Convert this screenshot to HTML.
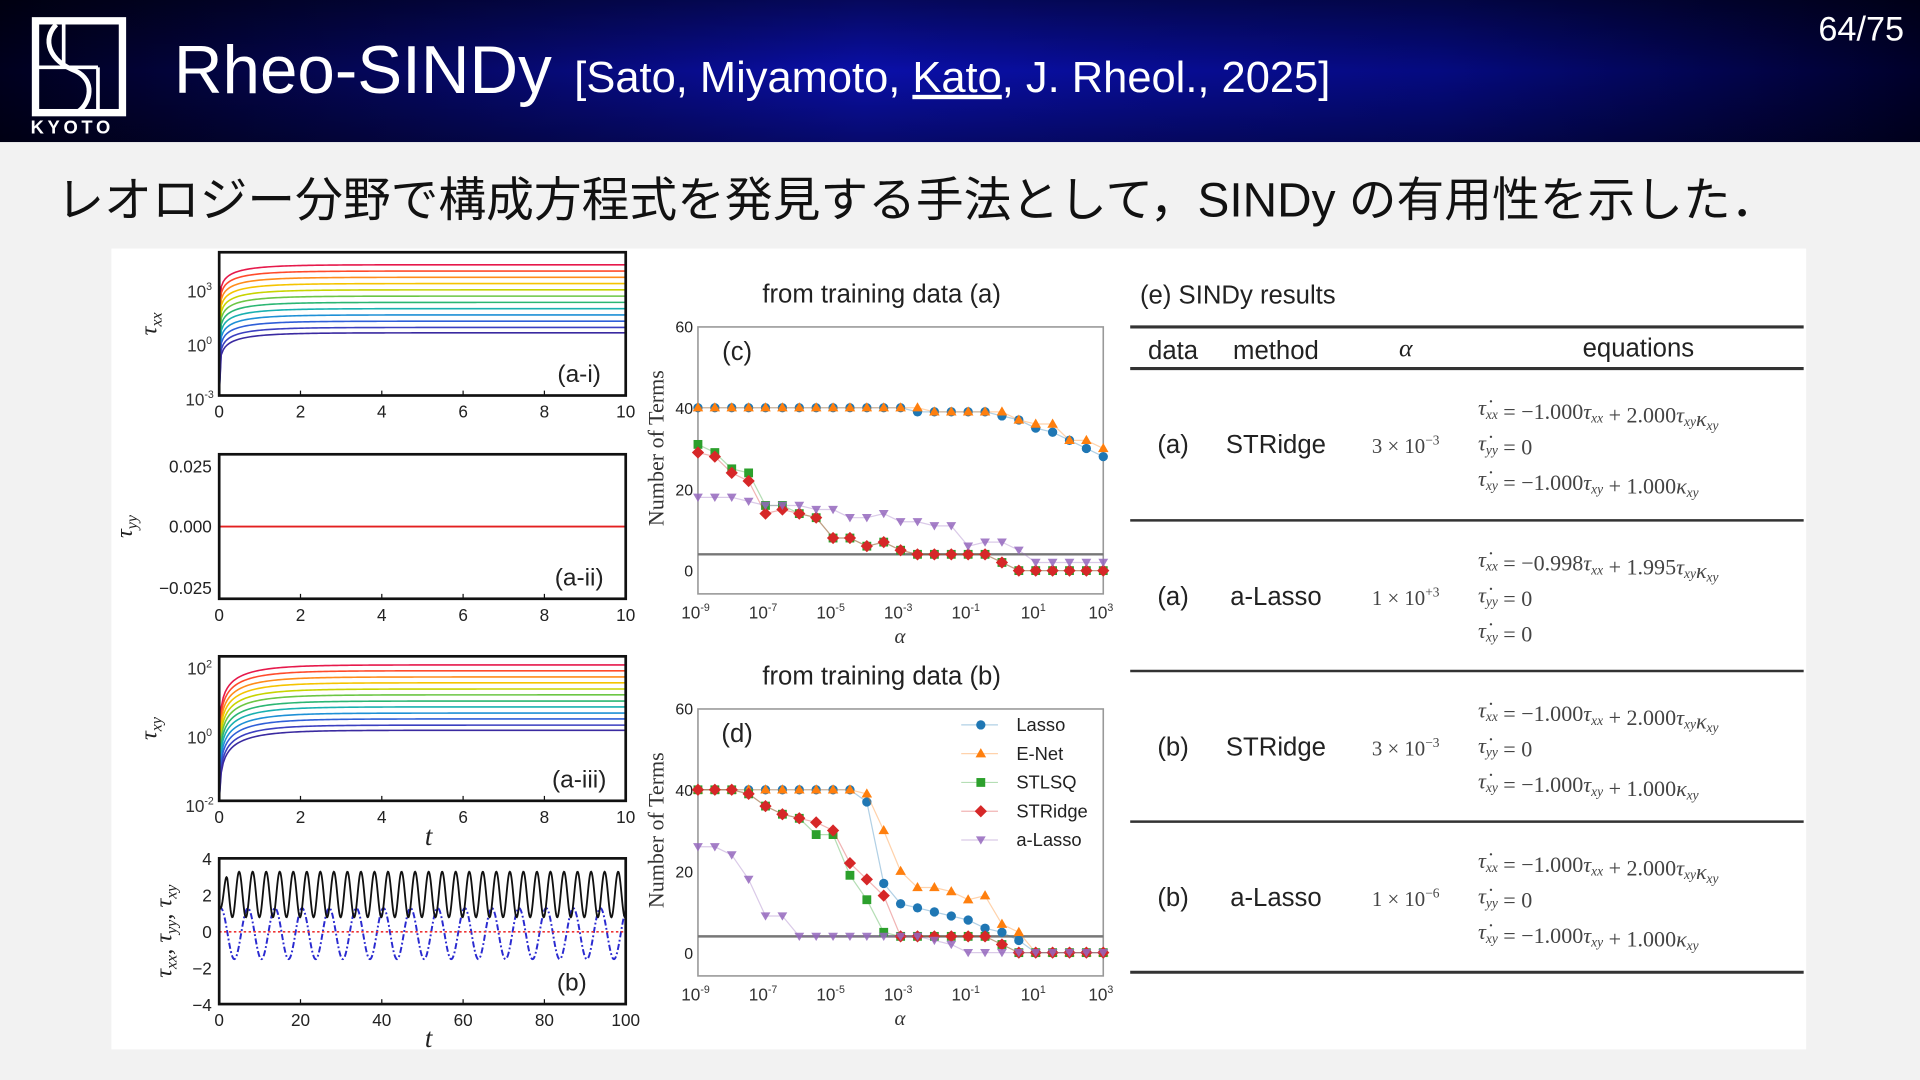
<!DOCTYPE html>
<html><head><meta charset="utf-8">
<style>
html,body{margin:0;padding:0;background:#f2f2f2;overflow:hidden}
svg{display:block}
.sans{font-family:"Liberation Sans","Noto Sans CJK JP",sans-serif}
.serif{font-family:"Liberation Serif",serif}
</style></head>
<body>
<svg id="s" width="1920" height="1080" viewBox="0 0 1568 882" xmlns="http://www.w3.org/2000/svg">
<defs>
<linearGradient id="hg" x1="0" y1="0" x2="1" y2="0">
<stop offset="0" stop-color="#00001e"/><stop offset="0.45" stop-color="#0a0fa8"/><stop offset="0.75" stop-color="#050a80"/><stop offset="1" stop-color="#00002a"/>
</linearGradient>
<linearGradient id="vg" x1="0" y1="0" x2="0" y2="1">
<stop offset="0" stop-color="#000" stop-opacity="0.45"/><stop offset="0.5" stop-color="#000" stop-opacity="0"/><stop offset="1" stop-color="#000" stop-opacity="0.35"/>
</linearGradient>
</defs>
<rect x="0" y="0" width="1568" height="882" fill="#f2f2f2"/>
<g>
<rect x="0" y="0" width="1568" height="116" fill="url(#hg)"/>
<rect x="0" y="0" width="1568" height="116" fill="url(#vg)"/>
<g fill="none" stroke="#fff">
<rect x="29" y="17" width="71" height="75" stroke-width="6"/>
<line x1="29" y1="55" x2="80" y2="55" stroke-width="3"/>
<line x1="80" y1="55" x2="80" y2="92" stroke-width="3"/>
<line x1="52" y1="17" x2="52" y2="55" stroke-width="3"/>
<path d="M46 20 C34 32 40 50 62 58 C78 66 74 84 64 91" stroke-width="4"/>
</g>
<text x="25" y="109" class="sans" font-size="15" font-weight="bold" fill="#fff" letter-spacing="3">KYOTO</text>
<text x="142" y="76" class="sans" font-size="55" fill="#fff">Rheo-SINDy</text>
<text x="469" y="75" class="sans" font-size="35.5" fill="#fff">[Sato, Miyamoto, <tspan text-decoration="underline">Kato</tspan>, J. Rheol., 2025]</text>
<text x="1555" y="33" text-anchor="end" class="sans" font-size="28" fill="#fff">64/75</text>
</g>
<text x="46" y="177" class="sans" font-size="39" fill="#111">レオロジー分野で構成方程式を発見する手法として，SINDy の有用性を示した．</text>
<rect x="91" y="203" width="1384" height="654" fill="#fff"/>
<g id="charts"></g>
<g id="table"></g>
</svg>
<script>
// ---------- data ----------
const alphaExp = [-9,-8.5,-8,-7.5,-7,-6.5,-6,-5.5,-5,-4.5,-4,-3.5,-3,-2.5,-2,-1.5,-1,-0.5,0,0.5,1,1.5,2,2.5,3];
const methods = ['Lasso','E-Net','STLSQ','STRidge','a-Lasso'];
const colors = ['#1f77b4','#ff7f0e','#2ca02c','#d62728','#9467bd'];
const cLasso  = [40,40,40,40,40,40,40,40,40,40,40,40,40,39,39,39,39,39,38,37,35,34,32,30,28];
const cENet   = [40,40,40,40,40,40,40,40,40,40,40,40,40,40,39,39,39,39,39,37,36,36,32,32,30];
const cSTLSQ  = [31,29,25,24,16,16,14,13,8,8,6,7,5,4,4,4,4,4,2,0,0,0,0,0,0];
const cSTRidge= [29,28,24,22,14,15,14,13,8,8,6,7,5,4,4,4,4,4,2,0,0,0,0,0,0];
const cALasso = [18,18,18,17,16,16,16,15,15,13,13,14,12,12,11,11,6,7,7,5,2,2,2,2,2];
const dLasso  = [40,40,40,40,40,40,40,40,40,40,37,17,12,11,10,9,8,6,5,3,0,0,0,0,0];
const dENet   = [40,40,40,40,40,40,40,40,40,40,39,30,20,16,16,15,13,14,7,5,0,0,0,0,0];
const dSTLSQ  = [40,40,40,39,36,34,33,29,29,19,13,5,4,4,4,4,4,4,2,0,0,0,0,0,0];
const dSTRidge= [40,40,40,39,36,34,33,32,30,22,18,14,4,4,4,4,4,4,2,0,0,0,0,0,0];
const dALasso = [26,26,24,18,9,9,4,4,4,4,4,4,4,4,3,2,0,0,0,0,0,0,0,0,0];
const trueTerms = 4;
const yTicksTerms = [0,20,40,60];
const xTicksAlpha = [-9,-7,-5,-3,-1,1,3];
const xTicksT = [0,2,4,6,8,10];
const xTicksTb = [0,20,40,60,80,100];
const rainbow = ['#e6194b','#ff4b2b','#ff8c1a','#f5c400','#c8d400','#6cc644','#2bb673','#19b0b0','#1e90d6','#2f5fd8','#3b3fc0','#3a2aa0'];
const aiSteadyLog = [4.3,3.95,3.6,3.25,2.9,2.55,2.2,1.85,1.5,1.15,0.8,0.5];
const aiiiSteadyLog = [1.95,1.78,1.6,1.43,1.25,1.08,0.9,0.73,0.55,0.38,0.2,0.05];
const bBlack = {mid:2.05, amp:1.25, period:3.33};
const bBlue = {mid:-0.1, amp:1.4, period:6.67};

const NS='http://www.w3.org/2000/svg';
const root=document.getElementById('charts');
function mk(tag,attrs,parent){const e=document.createElementNS(NS,tag);for(const k in attrs)e.setAttribute(k,attrs[k]);(parent||root).appendChild(e);return e;}
function txt(x,y,s,size,parent,anchor,cls){const t=mk('text',{x:x,y:y,'font-size':size,'text-anchor':anchor||'middle','class':cls||'sans',fill:'#222'},parent);t.textContent=s;return t;}
function pow10(x,y,e,parent,size){const t=mk('text',{x:x,y:y,'font-size':size||13,'text-anchor':'middle','class':'sans',fill:'#333'},parent);t.appendChild(document.createTextNode('10'));const sp=document.createElementNS(NS,'tspan');sp.setAttribute('dy','-6');sp.setAttribute('font-size',(size||13)*0.62);sp.textContent=e;t.appendChild(sp);return t;}

// ---------- alpha plots ----------
function alphaPlot(name,top,series,label,title,legend){
  const g=mk('g',{});
  
  
  const L=570,R=901,T=top,B=top+218;
  const X=e=>L+(e+9)/12*(R-L);
  const y0=top+199, y40=top+66;
  const Y=v=>y0-(y0-y40)/40*v;
  mk('rect',{x:L,y:T,width:R-L,height:B-T,fill:'#fff',stroke:'#999','stroke-width':1.3},g);
  txt(720,top-20,title,21,g);
  txt(602,top+27,label,21,g);
  yTicksTerms.forEach(v=>{txt(L-4,Y(v)+5,String(v),13,g,'end');});
  xTicksAlpha.forEach(e=>{pow10(X(e)-2,B+20,String(e),g,14);});
  const ax=mk('text',{x:735,y:B+40,'font-size':17,'text-anchor':'middle','class':'serif','font-style':'italic',fill:'#333'},g);ax.textContent='α';
  const yl=mk('text',{x:0,y:0,'font-size':18,'text-anchor':'middle','class':'serif',fill:'#333',transform:`translate(542,${(T+B)/2-10}) rotate(-90)`},g);yl.textContent='Number of Terms';
  const tl=mk('line',{x1:L,x2:R,y1:Y(trueTerms),y2:Y(trueTerms),stroke:'#777','stroke-width':2},g);
  
  
  series.forEach((vals,si)=>{
    const sg=mk('g',{},g);
    
    
    const c=colors[si];
    mk('polyline',{points:vals.map((v,i)=>X(alphaExp[i])+','+Y(v)).join(' '),fill:'none',stroke:c,'stroke-opacity':0.35,'stroke-width':1},sg);
    vals.forEach((v,i)=>{marker(si,X(alphaExp[i]),Y(v),sg);});
  });
  if(legend){
    const lg=mk('g',{},g);
    
    
    methods.forEach((m,i)=>{
      const ly=top+13+i*23.5;
      mk('line',{x1:785,x2:815,y1:ly,y2:ly,stroke:colors[i],'stroke-opacity':0.35},lg);
      marker(i,801,ly,lg);
      txt(830,ly+5,m,15,lg,'start');
    });
  }
}
function marker(si,x,y,p){
  const c=colors[si];let e;
  if(si===0)e=mk('circle',{cx:x,cy:y,r:3.8,fill:c},p);
  else if(si===1)e=mk('polygon',{points:`${x},${y-4.5} ${x+4.3},${y+3} ${x-4.3},${y+3}`,fill:c},p);
  else if(si===2)e=mk('rect',{x:x-3.6,y:y-3.6,width:7.2,height:7.2,fill:c},p);
  else if(si===3)e=mk('polygon',{points:`${x},${y-5} ${x+5},${y} ${x},${y+5} ${x-5},${y}`,fill:c},p);
  else e=mk('polygon',{points:`${x-4},${y-3} ${x+4},${y-3} ${x},${y+3.8}`,fill:c,'fill-opacity':0.85},p);
  
  
}
alphaPlot('chart-c',267,[cLasso,cENet,cSTLSQ,cSTRidge,cALasso],'(c)','from training data (a)',false);
alphaPlot('chart-d',579,[dLasso,dENet,dSTLSQ,dSTRidge,dALasso],'(d)','from training data (b)',true);

// ---------- time plots ----------
const L2=179,R2=511;
function frame(name,T,B,label,ticks,tmax,ylab){
  const g=mk('g',{});
  
  
  mk('rect',{x:L2,y:T,width:R2-L2,height:B-T,fill:'#fff'},g);
  const X=t=>L2+t/tmax*(R2-L2);
  ticks.forEach(t=>{txt(X(t),B+18,String(t),14,g);mk('line',{x1:X(t),x2:X(t),y1:B,y2:B-4,stroke:'#111'},g);});
  return {g,X};
}
function border(g,T,B,label,lx){
  mk('rect',{x:L2,y:T,width:R2-L2,height:B-T,fill:'none',stroke:'#111','stroke-width':2.2},g);
  txt(lx||473,B-11,label,20,g);
}
function ylabel(g,x,y,s){const t=mk('text',{x:0,y:0,'font-size':20,'text-anchor':'middle','class':'serif','font-style':'italic',fill:'#222',transform:`translate(${x},${y}) rotate(-90)`},g);t.innerHTML=s;return t;}
function logPanel(name,T,B,yBottomLog,yTopLog,tickLogs,tickYs,steady,label,ytitle){
  const f=frame(name,T,B,label,xTicksT,10);
  const Y=lg=>B-(lg-yBottomLog)/(yTopLog-yBottomLog)*(B-T);
  tickLogs.forEach((lg,i)=>{pow10(L2-16,tickYs[i]+5,String(lg),f.g,14);});
  steady.forEach((s,i)=>{
    const pts=[];
    for(let k=0;k<=200;k++){const t=k/20;let v=Math.pow(10,s)*(1-Math.exp(-t*1.2));let lg=v>0?Math.log10(v):yBottomLog;lg=Math.max(lg,yBottomLog);pts.push(f.X(t)+','+Y(lg));}
    const pl=mk('polyline',{points:pts.join(' '),fill:'none',stroke:rainbow[i],'stroke-width':1.3},f.g);
    
    
  });
  border(f.g,T,B,label);
  ylabel(f.g,128,(T+B)/2,ytitle);
}
logPanel('chart-a-i',206,323,-3,5,[3,0,-3],[238,282,326],aiSteadyLog,'(a-i)','τ<tspan font-size="13" dy="4">xx</tspan>');
// a-ii
(function(){
  const T=371,B=489;const f=frame('chart-a-ii',T,B,'(a-ii)',xTicksT,10);
  const yt=[0.025,0,-0.025], yy=[381,430,480];
  yt.forEach((v,i)=>{txt(L2-6,yy[i]+5,v.toFixed(3).replace('-','−'),14,f.g,'end');});
  mk('line',{x1:L2,x2:R2,y1:430,y2:430,stroke:'#e32020','stroke-width':1.5},f.g);
  border(f.g,T,B,'(a-ii)');
  ylabel(f.g,108,(T+B)/2,'τ<tspan font-size="13" dy="4">yy</tspan>');
})();
logPanel('chart-a-iii',536,654,-2,2.2,[2,0,-2],[546,602,658],aiiiSteadyLog,'(a-iii)','τ<tspan font-size="13" dy="4">xy</tspan>');
(function(){const t=mk('text',{x:350,y:690,'font-size':22,'text-anchor':'middle','class':'serif','font-style':'italic',fill:'#222'});t.textContent='t';
 })();
// b
(function(){
  const T=701,B=820;const f=frame('chart-b',T,B,'(b)',xTicksTb,100);
  const Y=v=>761-v*(B-T)/8;
  [4,2,0,-2,-4].forEach(v=>{txt(L2-6,Y(v)+5,String(v).replace('-','−'),14,f.g,'end');});
  const pk=[],pb=[];
  for(let k=0;k<=1000;k++){const t=k/10;
    const ramp=Math.min(1,t/2);
    pk.push(f.X(t)+','+Y(bBlack.mid*ramp+bBlack.amp*Math.sin(2*Math.PI*t/bBlack.period-1.4)*ramp+ (1-ramp)*1.3));
    pb.push(f.X(t)+','+Y(bBlue.mid+bBlue.amp*Math.sin(2*Math.PI*t/bBlue.period+1.2)));}
  const l1=mk('polyline',{points:pb.join(' '),fill:'none',stroke:'#2a2ad0','stroke-width':1.6,'stroke-dasharray':'5 2 1.5 2'},f.g);
  
  const l2=mk('line',{x1:L2,x2:R2,y1:Y(0),y2:Y(0),stroke:'#e33','stroke-width':1.3,'stroke-dasharray':'2 2'},f.g);
  
  const l3=mk('polyline',{points:pk.join(' '),fill:'none',stroke:'#111','stroke-width':1.5},f.g);
  
  border(f.g,T,B,'(b)',467);
  ylabel(f.g,140,(T+B)/2,'τ<tspan font-size="13" dy="4">xx</tspan><tspan dy="-4">, τ</tspan><tspan font-size="13" dy="4">yy</tspan><tspan dy="-4">, τ</tspan><tspan font-size="13" dy="4">xy</tspan>');
  const t=mk('text',{x:350,y:855,'font-size':22,'text-anchor':'middle','class':'serif','font-style':'italic',fill:'#222'},f.g);t.textContent='t';
})();

// ---------- table ----------
const tb=document.getElementById('table');
function tl(y,w){mk('line',{x1:923,x2:1473,y1:y,y2:y,stroke:'#333','stroke-width':w},tb);}
txt(931,248,'(e) SINDy results',21,tb,'start');
tl(267,2.5);tl(301,2.5);tl(425,2);tl(548,2);tl(671,2);tl(794,2.5);
txt(958,293,'data',21,tb);txt(1042,293,'method',21,tb);
(function(){const t=mk('text',{x:1148,y:291,'font-size':21,'text-anchor':'middle','class':'serif','font-style':'italic',fill:'#222'},tb);t.textContent='α';})();
txt(1338,291,'equations',21,tb);
const rows=[
 ['(a)','STRidge','3','−3',['−1.000','2.000'],'0',['−1.000','1.000']],
 ['(a)','a-Lasso','1','+3',['−0.998','1.995'],'0',null],
 ['(b)','STRidge','3','−3',['−1.000','2.000'],'0',['−1.000','1.000']],
 ['(b)','a-Lasso','1','−6',['−1.000','2.000'],'0',['−1.000','1.000']]];
const rowCenters=[362,486,609,732];
rows.forEach((r,i)=>{
  const cy=rowCenters[i];
  const g=mk('g',{},tb);
  
  
  txt(958,cy+8,r[0],21,g);txt(1042,cy+8,r[1],21,g);
  const a=mk('text',{x:1148,y:cy+8,'font-size':17,'text-anchor':'middle','class':'serif',fill:'#444'},g);
  a.innerHTML=r[2]+' × 10<tspan dy="-7" font-size="11">'+r[3]+'</tspan>';
  const sub=s=>'<tspan font-size="11" dy="3" font-style="italic">'+s+'</tspan><tspan dy="-3"></tspan>';
  const tau='<tspan font-style="italic">τ</tspan>';
  const dot='<tspan font-style="italic">τ̇</tspan>';
  const e1=mk('text',{x:1207,y:cy-23,'font-size':18,'class':'serif',fill:'#444'},g);
  e1.innerHTML=dot+sub('xx')+' = '+r[4][0]+tau+sub('xx')+' + '+r[4][1]+tau+sub('xy')+'<tspan font-style="italic">κ</tspan>'+sub('xy');
  const e2=mk('text',{x:1207,y:cy+6,'font-size':18,'class':'serif',fill:'#444'},g);
  e2.innerHTML=dot+sub('yy')+' = 0';
  const e3=mk('text',{x:1207,y:cy+35,'font-size':18,'class':'serif',fill:'#444'},g);
  e3.innerHTML=r[6]?dot+sub('xy')+' = '+r[6][0]+tau+sub('xy')+' + '+r[6][1]+'<tspan font-style="italic">κ</tspan>'+sub('xy'):dot+sub('xy')+' = 0';
});
</script>
</body></html>
